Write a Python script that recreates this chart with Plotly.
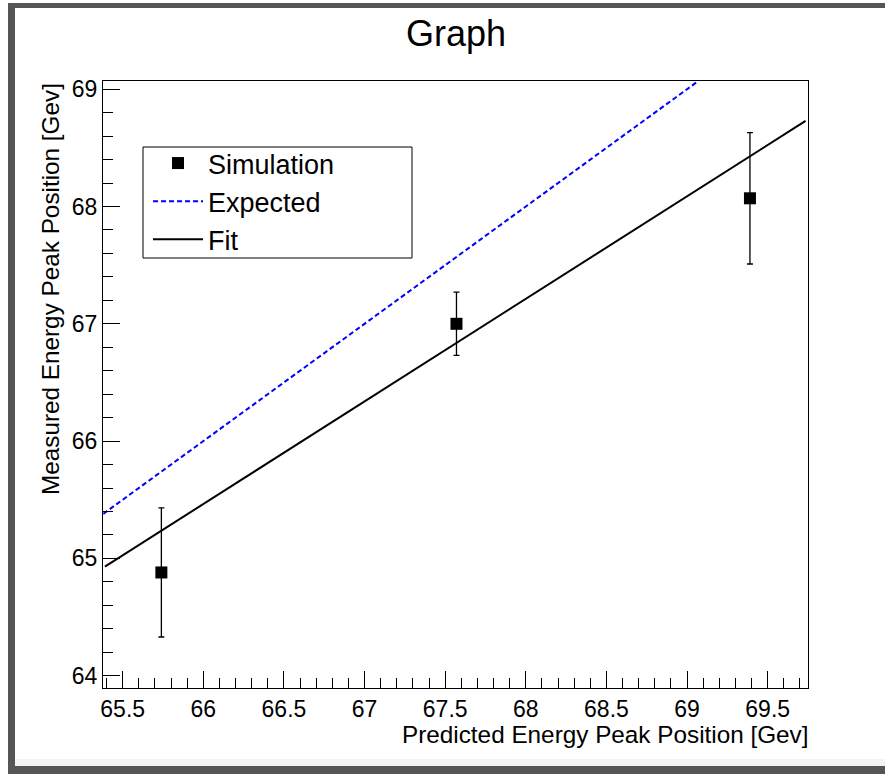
import plotly.graph_objects as go

# ---- data ----
sim_x = [65.74, 67.57, 69.39]
sim_y = [64.88, 67.00, 68.07]
sim_err = [0.55, 0.27, 0.56]

expected_x = [65.38, 69.07]
expected_y = [65.38, 69.07]

fit_x = [65.39, 69.735]
fit_y = [64.93, 68.73]

x_range = [65.378, 69.75]
y_range = [63.895, 69.07]

# ---- layout geometry (pixels) ----
W, H = 885, 774
L, R, T, B = 103, 808, 81, 688
PW, PH = R - L, B - T


def px(x):
    return (x - L) / PW


def py(y):
    return (B - y) / PH


FONT = "Liberation Sans, Arial, Helvetica, sans-serif"

fig = go.Figure()

fig.add_trace(go.Scatter(
    x=expected_x, y=expected_y, mode="lines", name="Expected", legendrank=2,
    line=dict(color="#0000ff", width=2, dash="5px,3px"),
))
fig.add_trace(go.Scatter(
    x=fit_x, y=fit_y, mode="lines", name="Fit", legendrank=3,
    line=dict(color="black", width=2),
))
fig.add_trace(go.Scatter(
    x=sim_x, y=sim_y, mode="markers", name="Simulation", legendrank=1,
    marker=dict(symbol="square", size=12, color="black"),
    error_y=dict(type="data", array=sim_err, color="black", thickness=1.3, width=3),
))

axis_common = dict(
    showgrid=False, zeroline=False, showline=True, linecolor="black", linewidth=1,
    mirror=True, ticks="inside", tickcolor="black", tickwidth=1,
    tickfont=dict(family=FONT, size=23, color="black"),
)

fig.update_xaxes(
    range=x_range, tick0=65.5, dtick=0.5, ticklen=17,
    minor=dict(dtick=0.1, ticklen=10, ticks="inside", tickcolor="black", tickwidth=1),
    **axis_common,
)
fig.update_yaxes(
    range=y_range, tick0=64, dtick=1, ticklen=17,
    minor=dict(dtick=0.2, ticklen=10, ticks="inside", tickcolor="black", tickwidth=1),
    **axis_common,
)

shapes = []
band = "#555555"
# outer canvas border (top, left, bottom)
shapes.append(dict(type="rect", xref="paper", yref="paper", x0=px(8), x1=px(885), y0=py(3), y1=py(8),
                   fillcolor=band, line=dict(width=0), layer="above"))
shapes.append(dict(type="rect", xref="paper", yref="paper", x0=px(8), x1=px(15), y0=py(3), y1=py(774),
                   fillcolor=band, line=dict(width=0), layer="above"))
shapes.append(dict(type="rect", xref="paper", yref="paper", x0=px(15), x1=px(885), y0=py(759), y1=py(766),
                   fillcolor="#f3f3f3", line=dict(width=0), layer="above"))
shapes.append(dict(type="rect", xref="paper", yref="paper", x0=px(8), x1=px(885), y0=py(766), y1=py(774),
                   fillcolor=band, line=dict(width=0), layer="above"))
# legend frame
shapes.append(dict(type="rect", xref="paper", yref="paper", x0=px(143), x1=px(412), y0=py(147), y1=py(258),
                   fillcolor="rgba(0,0,0,0)", line=dict(color="black", width=1), layer="above"))

annotations = [
    dict(text="Predicted Energy Peak Position [Gev]", xref="paper", yref="paper",
         x=px(811), y=py(734), xanchor="right", yanchor="middle", showarrow=False,
         font=dict(family=FONT, size=24.3, color="black")),
    dict(text="Measured Energy Peak Position [Gev]", xref="paper", yref="paper",
         x=px(50), y=1.0, xanchor="center", yanchor="top", textangle=-90, showarrow=False,
         font=dict(family=FONT, size=24.3, color="black")),
]

fig.update_layout(
    width=W, height=H,
    margin=dict(l=L, r=W - R, t=T, b=H - B, pad=0),
    paper_bgcolor="white", plot_bgcolor="white",
    title=dict(text="Graph", x=px(456), xref="paper", xanchor="center",
               y=1 - 33 / H, yref="container", yanchor="middle",
               font=dict(family=FONT, size=36, color="black")),
    legend=dict(
        x=px(148), y=py(139), xanchor="left", yanchor="top",
        bgcolor="rgba(0,0,0,0)", borderwidth=0,
        font=dict(family=FONT, size=27, color="black"),
        itemwidth=50, tracegroupgap=0,
    ),
    shapes=shapes, annotations=annotations,
    showlegend=True,
)

fig.write_html("out.html", config={"displayModeBar": False},
               post_script="document.body.style.margin='0';")
